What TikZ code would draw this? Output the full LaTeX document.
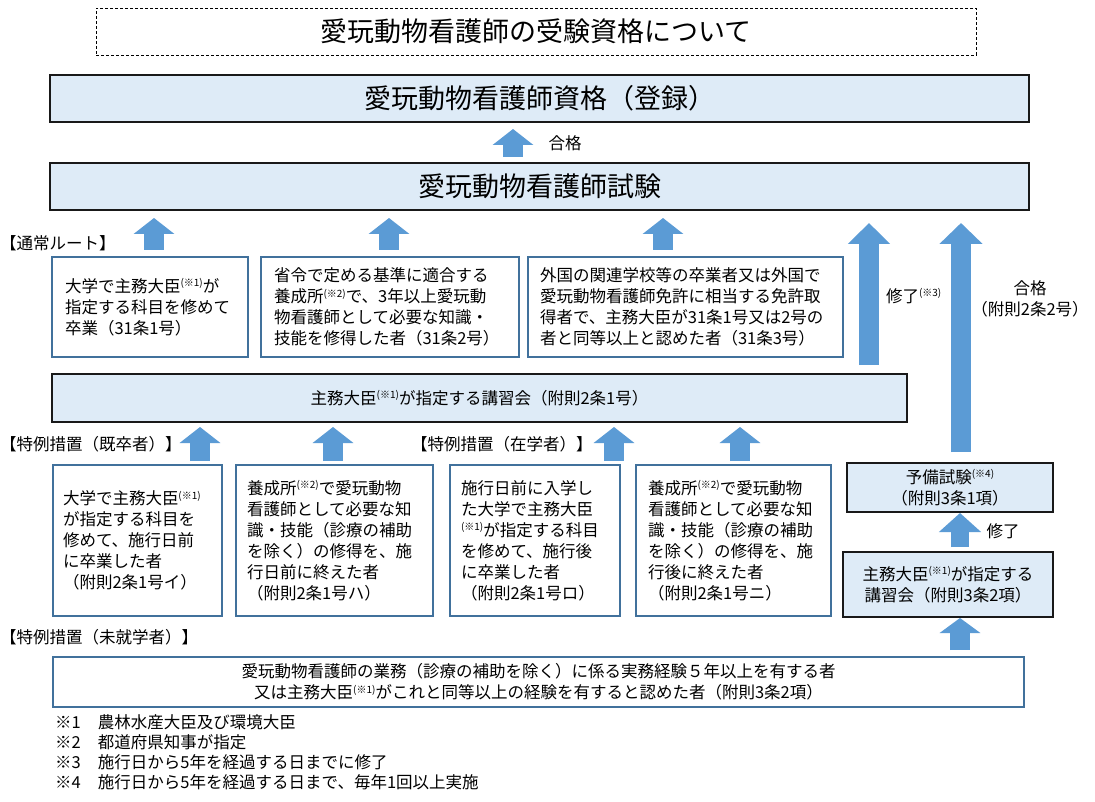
\documentclass[tikz,border=0pt]{standalone}
\usepackage{fontspec}
\setmainfont{Noto Sans CJK JP}
\usetikzlibrary{arrows.meta}
\definecolor{arrowblue}{HTML}{5B9BD5}
\definecolor{fillblue}{HTML}{DEEBF7}
\definecolor{lineblue}{HTML}{41719C}
\newcommand\ksup[1]{\raisebox{5.5pt}{\fontsize{10}{10}\selectfont(※#1)}}
\begin{document}
\begin{tikzpicture}[x=1pt,y=-1pt,
  nosep/.style={inner sep=0pt, outer sep=0pt},
  bigtext/.style={font=\fontsize{27}{32}\selectfont},
  bodytext/.style={font=\fontsize{16.5}{21}\selectfont},
  titlebox/.style={nosep, draw=black, line width=0.9pt, dash pattern=on 3pt off 2pt, bigtext},
  bluebox/.style={nosep, draw=black!90, line width=1.3pt, fill=fillblue},
  whitebox/.style={nosep, draw=lineblue, line width=1.1pt, fill=white, bodytext, align=left},
  lbl/.style={nosep, bodytext},
  barrow/.style={draw=arrowblue, line width=20pt, -{Triangle[width=40pt,length=16pt]}},
]
\fill[white] (0,0) rectangle (1095,802);
\useasboundingbox (0,0) rectangle (1095,802);

% top boxes
\node[titlebox, minimum width=880pt, minimum height=47pt] (title) at (536,31.5) {愛玩動物看護師の受験資格について};
\node[bluebox, bigtext, minimum width=979pt, minimum height=47pt] (shikaku) at (539.5,98.5) {愛玩動物看護師資格（登録）};
\node[bluebox, bigtext, minimum width=979pt, minimum height=47pt] (exam) at (539.5,186.5) {愛玩動物看護師試験};
\node[lbl, anchor=center] (gokaku1) at (565,143) {合格};

% normal route
\node[lbl, anchor=west] (normal) at (0,243) {【通常ルート】};
\node[whitebox, minimum width=196pt, minimum height=100pt, text width=170pt] (A) at (150,307)
  {大学で主務大臣\ksup{1}が\\指定する科目を修めて\\卒業（31条1号）};
\node[whitebox, minimum width=258pt, minimum height=100pt, text width=232pt] (B) at (390,307)
  {省令で定める基準に適合する\\養成所\ksup{2}で、3年以上愛玩動\\物看護師として必要な知識・\\技能を修得した者（31条2号）};
\node[whitebox, minimum width=315pt, minimum height=100pt, text width=291pt] (C) at (685.5,307)
  {外国の関連学校等の卒業者又は外国で\\愛玩動物看護師免許に相当する免許取\\得者で、主務大臣が31条1号又は2号の\\者と同等以上と認めた者（31条3号）};

\node[bluebox, bodytext, minimum width=855pt, minimum height=48pt] (kosyu1) at (479.5,398)
  {主務大臣\ksup{1}が指定する講習会（附則2条1号）};

\node[lbl, anchor=west] (shuryo3) at (886,296) {修了\ksup{3}};
\node[lbl, align=center] (gokaku2) at (1030,298.5) {合格\\（附則2条2号）};

% special measures
\node[lbl, anchor=west] (kisotsu) at (0,444) {【特例措置（既卒者）】};
\node[lbl, anchor=west] (zaigaku) at (411,444) {【特例措置（在学者）】};

\node[whitebox, minimum width=169pt, minimum height=151pt, text width=149pt] (D) at (137.5,540.5)
  {大学で主務大臣\ksup{1}\\が指定する科目を\\修めて、施行日前\\に卒業した者\\（附則2条1号イ）};
\node[whitebox, minimum width=197pt, minimum height=151pt, text width=175pt] (E) at (334.5,540.5)
  {養成所\ksup{2}で愛玩動物\\看護師として必要な知\\識・技能（診療の補助\\を除く）の修得を、施\\行日前に終えた者\\（附則2条1号ハ）};
\node[whitebox, minimum width=170pt, minimum height=151pt, text width=148pt] (F) at (535,540.5)
  {施行日前に入学し\\た大学で主務大臣\\\ksup{1}が指定する科目\\を修めて、施行後\\に卒業した者\\（附則2条1号ロ）};
\node[whitebox, minimum width=195pt, minimum height=151pt, text width=171pt] (G) at (733.5,540.5)
  {養成所\ksup{2}で愛玩動物\\看護師として必要な知\\識・技能（診療の補助\\を除く）の修得を、施\\行後に終えた者\\（附則2条1号ニ）};

\node[bluebox, bodytext, align=center, minimum width=206pt, minimum height=49pt] (yobi) at (950,487.5)
  {予備試験\ksup{4}\\（附則3条1項）};
\node[bluebox, bodytext, align=center, minimum width=210pt, minimum height=65pt] (kosyu2) at (948,584.5)
  {主務大臣\ksup{1}が指定する\\講習会（附則3条2項）};
\node[lbl, anchor=center] (shuryo) at (1003,531) {修了};

\node[lbl, anchor=west] (mishugaku) at (0,637) {【特例措置（未就学者）】};
\node[whitebox, align=center, minimum width=971pt, minimum height=50pt] (bottom) at (538.5,682)
  {愛玩動物看護師の業務（診療の補助を除く）に係る実務経験５年以上を有する者\\又は主務大臣\ksup{1}がこれと同等以上の経験を有すると認めた者（附則3条2項）};

% footnotes
\node[lbl, anchor=west] (fn1) at (55,722) {\makebox[43pt][l]{※1}農林水産大臣及び環境大臣};
\node[lbl, anchor=west] (fn2) at (55,742) {\makebox[43pt][l]{※2}都道府県知事が指定};
\node[lbl, anchor=west] (fn3) at (55,762) {\makebox[43pt][l]{※3}施行日から5年を経過する日までに修了};
\node[lbl, anchor=west] (fn4) at (55,782) {\makebox[43pt][l]{※4}施行日から5年を経過する日まで、毎年1回以上実施};

% arrow x positions
\coordinate (xt) at (513,0);
\coordinate (x1) at (154,0);
\coordinate (x2) at (389,0);
\coordinate (x3) at (663,0);
\coordinate (x4) at (869,0);
\coordinate (x5) at (961,0);
\coordinate (y1) at (200,0);
\coordinate (y2) at (333,0);
\coordinate (y3) at (614,0);
\coordinate (y4) at (740,0);
\coordinate (z1) at (960,0);

\draw[barrow, shorten <=6pt, shorten >=7pt] (xt |- exam.north) -- (xt |- shikaku.south);
\draw[barrow, shorten <=7pt, shorten >=8pt] (x1 |- A.north) -- (x1 |- exam.south);
\draw[barrow, shorten <=7pt, shorten >=8pt] (x2 |- B.north) -- (x2 |- exam.south);
\draw[barrow, shorten <=7pt, shorten >=8pt] (x3 |- C.north) -- (x3 |- exam.south);
\draw[barrow, -{Triangle[width=41pt,length=21pt]}, shorten <=9pt, shorten >=13pt] (x4 |- kosyu1.north) -- (x4 |- exam.south);
\draw[barrow, -{Triangle[width=42pt,length=21pt]}, shorten <=11pt, shorten >=13pt] (x5 |- yobi.north) -- (x5 |- exam.south);
\draw[barrow, shorten <=4pt, shorten >=5pt] (y1 |- D.north) -- (y1 |- kosyu1.south);
\draw[barrow, shorten <=4pt, shorten >=5pt] (y2 |- E.north) -- (y2 |- kosyu1.south);
\draw[barrow, shorten <=4pt, shorten >=5pt] (y3 |- F.north) -- (y3 |- kosyu1.south);
\draw[barrow, shorten <=4pt, shorten >=5pt] (y4 |- G.north) -- (y4 |- kosyu1.south);
\draw[barrow, line width=18pt, -{Triangle[width=41pt,length=19pt]}, shorten <=5pt, shorten >=1pt] (z1 |- kosyu2.north) -- (z1 |- yobi.south);
\draw[barrow, -{Triangle[width=40pt,length=15pt]}, shorten <=7pt, shorten >=1pt] (z1 |- bottom.north) -- (z1 |- kosyu2.south);
\end{tikzpicture}
\end{document}
